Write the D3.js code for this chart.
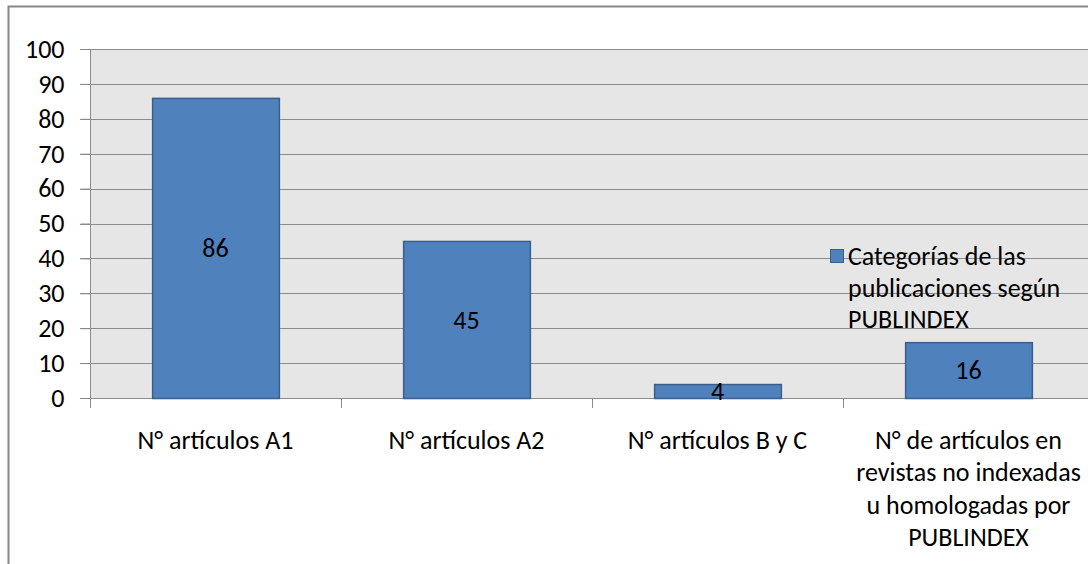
<!DOCTYPE html>
<html><head><meta charset="utf-8">
<script src="https://cdn.jsdelivr.net/npm/d3@7"></script>
<style>body{margin:0;background:#fff;} svg{display:block;font-family:Carlito,Lato,"Open Sans",sans-serif;}</style>
</head><body>
<svg id="c" width="1088" height="564"></svg>
<script>
const categories = [
  ["N° artículos A1"],
  ["N° artículos A2"],
  ["N° artículos B y C"],
  ["N° de artículos en","revistas no indexadas","u homologadas por","PUBLINDEX"]
];
const values = [86, 45, 4, 16];
const yTicks = [0,10,20,30,40,50,60,70,80,90,100];
const seriesName = ["Categorías de las","publicaciones según","PUBLINDEX"];

const FS = 26;
const svg = d3.select("#c");
const pLeft = 90, pRight = 1094, pTop = 49, pBottom = 398;
const x = d3.scaleBand().domain(d3.range(categories.length)).range([pLeft, pRight]).paddingInner(0).paddingOuter(0);
const y = d3.scaleLinear().domain([0,100]).range([pBottom, pTop]);

// outer border
svg.append("path").attr("d","M8.5,564 V6.5 H1088").attr("fill","none").attr("stroke","#888").attr("stroke-width",2);

// plot background
svg.append("rect").attr("x",pLeft).attr("y",pTop).attr("width",1088-pLeft).attr("height",pBottom-pTop).attr("fill","#e6e6e6");

// grid lines
svg.append("g").selectAll("line").data(yTicks).join("line")
  .attr("x1",pLeft-10).attr("x2",1088)
  .attr("y1",d=>Math.round(y(d))+0.5).attr("y2",d=>Math.round(y(d))+0.5)
  .attr("stroke","#8c8c8c").attr("stroke-width",1);

// y axis
const yAxis = d3.axisLeft(y).tickValues(yTicks).tickSize(10).tickPadding(16);
const gy = svg.append("g").attr("transform",`translate(${pLeft+0.5},0)`).call(yAxis);
gy.select(".domain").attr("stroke","#8c8c8c").attr("d",`M0,${pTop}V${pBottom}`);
gy.selectAll(".tick line").attr("stroke","#8c8c8c");
gy.selectAll("text").attr("font-size",FS).attr("fill","#000").attr("font-family","Carlito,Lato,sans-serif");

// x axis ticks
const bounds = d3.range(categories.length+1).map(i=>pLeft + i*x.step());
svg.append("g").selectAll("line").data(bounds).join("line")
  .attr("x1",d=>Math.round(d)+0.5).attr("x2",d=>Math.round(d)+0.5)
  .attr("y1",pBottom).attr("y2",pBottom+10).attr("stroke","#8c8c8c");
svg.append("line").attr("x1",pLeft).attr("x2",1088).attr("y1",pBottom+0.5).attr("y2",pBottom+0.5).attr("stroke","#8c8c8c");

// bars
const bw = x.bandwidth()*0.505;
svg.append("g").selectAll("rect").data(values).join("rect")
  .attr("x",(d,i)=>x(i)+x.bandwidth()/2-bw/2+0.5)
  .attr("y",d=>y(d)+0.5)
  .attr("width",bw).attr("height",d=>pBottom-y(d))
  .attr("fill","#4f81bd").attr("stroke","#3a5f8c").attr("stroke-width",1.5);

// data labels
svg.append("g").selectAll("text").data(values).join("text")
  .attr("x",(d,i)=>x(i)+x.bandwidth()/2)
  .attr("y",d=>(y(d)+pBottom)/2)
  .attr("dy","0.36em").attr("text-anchor","middle").attr("font-size",FS).attr("fill","#000")
  .text(d=>d);

// category labels
const cg = svg.append("g").selectAll("text").data(categories).join("text")
  .attr("text-anchor","middle").attr("font-size",FS).attr("fill","#000");
cg.each(function(lines,i){
  d3.select(this).selectAll("tspan").data(lines).join("tspan")
    .attr("x",x(i)+x.bandwidth()/2)
    .attr("y",(d,j)=>449+j*32.3)
    .text(d=>d);
});

// legend
svg.append("rect").attr("x",830.5).attr("y",249.5).attr("width",13).attr("height",13)
  .attr("fill","#4f81bd").attr("stroke","#3a5f8c");
svg.append("g").selectAll("text").data(seriesName).join("text")
  .attr("x",848).attr("y",(d,i)=>265+i*31.5).attr("font-size",FS).attr("fill","#000").text(d=>d);
</script>
</body></html>
